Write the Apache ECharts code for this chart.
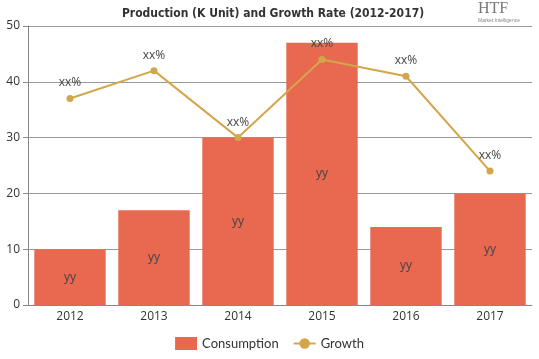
<!DOCTYPE html>
<html><head><meta charset="utf-8">
<script src="https://cdn.jsdelivr.net/npm/echarts@6/dist/echarts.min.js"></script>
<style>html,body{margin:0;padding:0;background:#fff}#c{width:539px;height:359px}</style>
</head><body><div id="c"></div>
<script>
const years = ['2012','2013','2014','2015','2016','2017'];
const consumption = [10, 17, 30, 47, 14, 20];
const growth = [37, 42, 30, 44, 41, 24];
const yTicks = {min: 0, max: 50, interval: 10};

const chart = echarts.init(document.getElementById('c'));
chart.setOption({
  animation: false,
  title: {
    text: 'Production (K Unit) and Growth Rate (2012-2017)',
    left: 268, top: 3, textAlign: 'center',
    textStyle: {fontFamily: '"DejaVu Sans Condensed", "DejaVu Sans", sans-serif', fontWeight: 'bold', fontSize: 12, color: '#333'}
  },
  graphic: [
    {type: 'text', left: 478, top: 1, style: {text: 'HTF', font: '16px "Liberation Serif"', fill: '#777'}},
    {type: 'text', left: 478, top: 18, style: {text: 'Market Intelligence', font: '5px "Liberation Sans"', fill: '#888'}}
  ],
  legend: {
    bottom: 4, left: 'center', itemWidth: 22, itemHeight: 13, itemGap: 14,
    textStyle: {fontFamily: 'Lato', fontSize: 13, color: '#333'},
    data: [{name: 'Consumption', icon: 'rect'}, {name: 'Growth'}]
  },
  grid: {left: 28, right: 7, top: 26, bottom: 54},
  xAxis: {
    type: 'category', data: years,
    axisLine: {lineStyle: {color: '#888'}},
    axisTick: {show: false},
    axisLabel: {fontFamily: 'Open Sans', fontSize: 12, color: '#333', margin: 6}
  },
  yAxis: {
    type: 'value', min: yTicks.min, max: yTicks.max, interval: yTicks.interval,
    axisLine: {show: true, lineStyle: {color: '#888'}},
    axisTick: {show: true, length: 5, lineStyle: {color: '#888'}},
    splitLine: {lineStyle: {color: '#999'}},
    axisLabel: {fontFamily: 'Open Sans', fontSize: 12, color: '#333', margin: 8}
  },
  series: [
    {
      name: 'Consumption', type: 'bar', data: consumption, barCategoryGap: '15%',
      itemStyle: {color: '#E8694F'},
      label: {show: true, position: 'inside', formatter: 'yy', color: '#444', fontFamily: 'Open Sans', fontSize: 12}
    },
    {
      name: 'Growth', type: 'line', data: growth, symbol: 'circle', symbolSize: 7,
      itemStyle: {color: '#D4A64A'}, lineStyle: {color: '#D4A64A', width: 2},
      label: {show: true, position: 'top', formatter: 'xx%', color: '#444', fontFamily: 'Open Sans', fontSize: 12, distance: 6}
    }
  ]
});
</script></body></html>
